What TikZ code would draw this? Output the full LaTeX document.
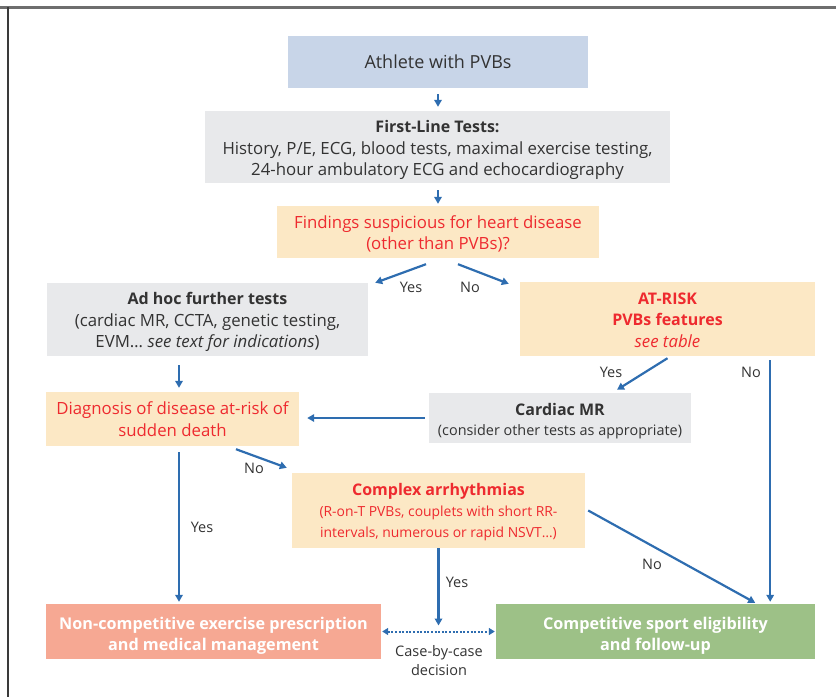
\documentclass[tikz,border=0pt]{standalone}
\usepackage{fontspec}
\setmainfont{Open Sans}
\usetikzlibrary{arrows.meta}

\definecolor{blueF}{HTML}{C8D5E8}
\definecolor{grayF}{HTML}{E8E9EB}
\definecolor{orangeF}{HTML}{FCE8C5}
\definecolor{redT}{HTML}{EE2A2F}
\definecolor{salmonF}{HTML}{F6A893}
\definecolor{greenF}{HTML}{9DC187}
\definecolor{arrowC}{HTML}{2E6DB0}
\definecolor{textC}{HTML}{333333}
\definecolor{frameTop}{HTML}{6E6E6E}
\definecolor{frameLeft}{HTML}{3A3A3A}

\newcommand{\headfont}{\fontsize{16}{21.5}\selectfont\bfseries}
\newcommand{\subfont}{\fontsize{13.9}{18.5}\selectfont}
% invisible strut that lowers the first line of a box
\newcommand{\lowerby}[1]{\rule{0pt}{#1}}

\begin{document}
\begin{tikzpicture}[x=1pt,y=-1pt,
  box/.style={inner sep=0pt, align=center, text=textC},
  bluebox/.style={box, fill=blueF},
  graybox/.style={box, fill=grayF},
  orangebox/.style={box, fill=orangeF, text=redT},
  salmonbox/.style={box, fill=salmonF, text=white},
  greenbox/.style={box, fill=greenF, text=white},
  body/.style={font=\fontsize{16.8}{21.5}\selectfont},
  lab/.style={text=textC, inner sep=0pt, font=\fontsize{14.5}{19}\selectfont, align=center},
  arr/.style={draw=arrowC, line width=2.2pt, -{Triangle[length=7pt,width=7.5pt]}},
  dotarr/.style={draw=arrowC, line width=2pt, dash pattern=on 2pt off 1.6pt,
    {Triangle[length=6pt,width=7pt]}-{Triangle[length=6pt,width=7pt]}}
]
\useasboundingbox (0,0) rectangle (836,697);

% frame
\draw[frameTop, line width=3pt] (0,7) -- (836,7);
\draw[frameLeft, line width=1.4pt] (8,7) -- (8,697);

% boxes
\node[bluebox, minimum width=300pt, minimum height=52pt, font=\fontsize{18}{22}\selectfont]
  (athlete) at (438,62) {Athlete with PVBs};

\node[graybox, minimum width=465pt, minimum height=72pt, body]
  (first) at (437.5,147) {\lowerby{19pt}{\headfont First-Line Tests:}\\History, P/E, ECG, blood tests, maximal exercise testing,\\24-hour ambulatory ECG and echocardiography};

\node[orangebox, minimum width=322pt, minimum height=52pt, body]
  (findings) at (438,232) {\lowerby{16.5pt}Findings suspicious for heart disease\\(other than PVBs)?};

\node[graybox, minimum width=321pt, minimum height=73pt, body]
  (adhoc) at (207.5,319.5) {\lowerby{18pt}{\headfont Ad hoc further tests}\\(cardiac MR, CCTA, genetic testing,\\EVM… \textit{see text for indications})};

\node[orangebox, minimum width=295pt, minimum height=74pt, body]
  (atrisk) at (667.5,319) {\lowerby{14pt}{\headfont AT-RISK}\\{\headfont PVBs features}\\\textit{see table}};

\node[orangebox, minimum width=253pt, minimum height=54pt, body]
  (diag) at (172.5,419) {Diagnosis of disease at-risk of\\sudden death};

\node[graybox, minimum width=262pt, minimum height=50pt, body]
  (cardiac) at (560,418) {\lowerby{18pt}{\headfont Cardiac MR}\\[-2pt]\fontsize{14.4}{18}\selectfont(consider other tests as appropriate)};

\node[orangebox, minimum width=293pt, minimum height=75pt, body]
  (complex) at (438.5,510.5) {\lowerby{16pt}{\headfont Complex arrhythmias}\\[-1pt]{\subfont(R-on-T PVBs, couplets with short RR-}\\{\subfont intervals, numerous or rapid NSVT…)}};

\node[salmonbox, minimum width=335pt, minimum height=55pt, font=\fontsize{16.2}{21}\selectfont\bfseries]
  (noncomp) at (213.5,631.5) {\lowerby{20.5pt}Non-competitive exercise prescription\\and medical management};

\node[greenbox, minimum width=319pt, minimum height=55pt, font=\fontsize{16.2}{21}\selectfont\bfseries]
  (comp) at (655.5,631.5) {\lowerby{20.5pt}Competitive sport eligibility\\and follow-up};

% connectors
\draw[arr, shorten <=6pt, shorten >=4pt] (athlete.south) -- (athlete.south |- first.north);
\draw[arr, shorten <=7pt, shorten >=2pt] (first.south -| findings.north) -- (findings.north);

\draw[arr] ([xshift=-12pt,yshift=-6pt]findings.south) -- ([xshift=7pt]adhoc.north east);
\draw[arr] ([xshift=20pt,yshift=-6pt]findings.south) -- ([xshift=-11pt,yshift=-2pt]atrisk.north west);

\draw[arr, shorten <=9pt, shorten >=4pt] ([xshift=6.5pt]diag.north |- adhoc.south) -- ([xshift=6.5pt]diag.north);

\draw[arr] ([yshift=-2pt]atrisk.south) -- ([xshift=57pt,yshift=3pt]cardiac.north);
\draw[arr, shorten <=4pt, shorten >=2pt] ([xshift=-45pt]atrisk.south east) -- ([xshift=-45pt]comp.north east);

\draw[arr, shorten <=4pt, shorten >=8pt] (cardiac.west) -- (cardiac.west -| diag.east);

\draw[arr] ([xshift=63.5pt,yshift=-3pt]diag.south) -- ([xshift=-5pt,yshift=5pt]complex.north west);
\draw[arr, shorten <=6pt, shorten >=2pt] ([xshift=6.5pt]diag.south) -- ([xshift=6.5pt]diag.south |- noncomp.north);

\draw[arr] ([xshift=3pt]complex.east) -- ([xshift=-60pt,yshift=1pt]comp.north east);
\draw[arr, shorten >=6pt] (complex.south) -- (complex.south |- noncomp.east);

\draw[dotarr, shorten <=1pt, shorten >=1pt] (noncomp.east) -- (comp.west);

% labels
\node[lab] (yesA) at (411,287) {Yes};
\node[lab] (noA) at (470,287) {No};
\node[lab] (yesB) at (611,372) {Yes};
\node[lab] (noB) at (751,372) {No};
\node[lab] (noC) at (254,468) {No};
\node[lab] (yesC) at (202,527) {Yes};
\node[lab] (yesD) at (457,582) {Yes};
\node[lab] (noD) at (652,564) {No};
\node[lab] (cbc) at (439,661) {Case-by-case\\decision};
\end{tikzpicture}
\end{document}
